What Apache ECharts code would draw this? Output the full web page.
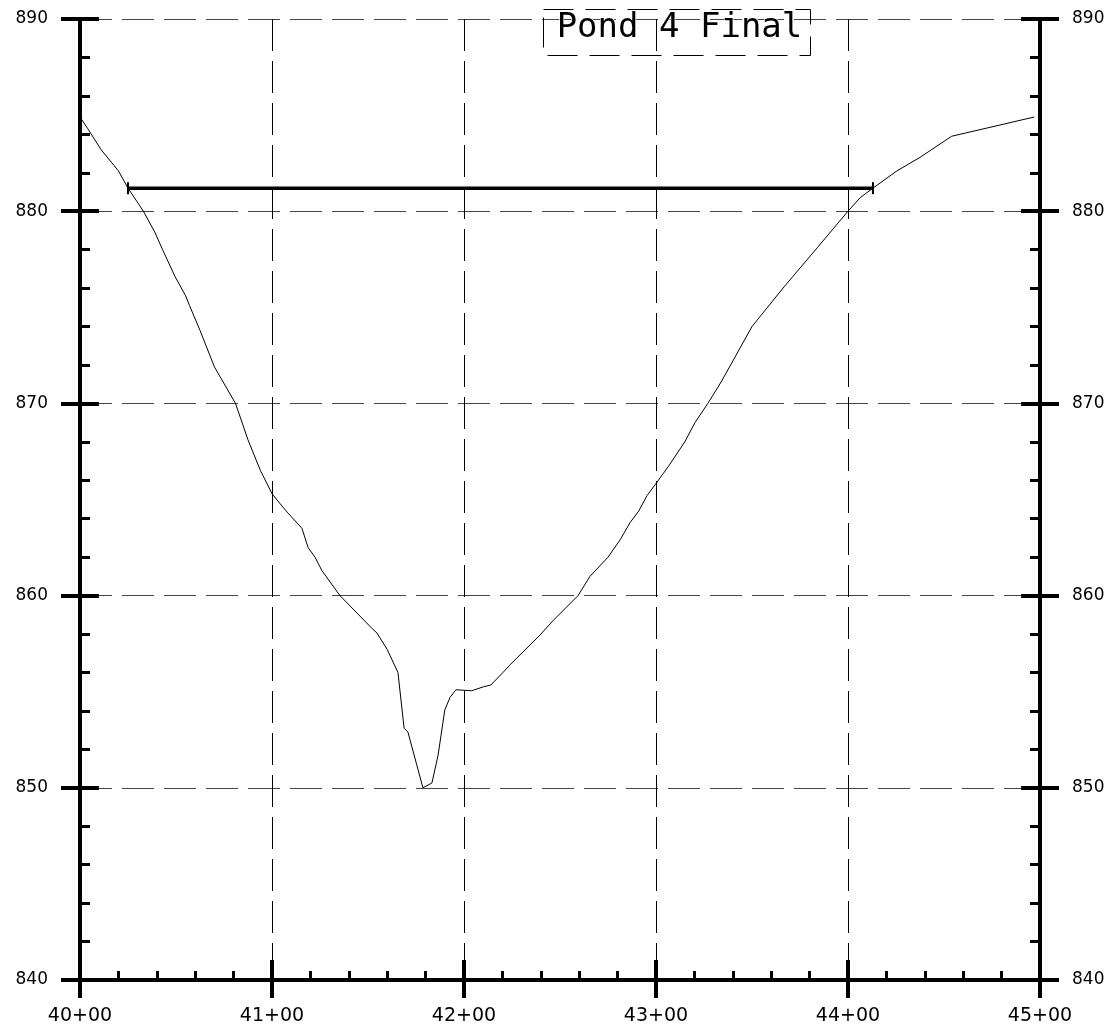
<!DOCTYPE html>
<html>
<head>
<meta charset="utf-8">
<script src="https://cdn.jsdelivr.net/npm/echarts@6/dist/echarts.min.js"></script>
<style>
html,body{margin:0;padding:0;background:#fff;}
#chart{width:1111px;height:1036px;}
</style>
</head>
<body>
<div id="chart"></div>
<script>
// Ground profile (station in ft, elevation)
const stations = [4000, 4004, 4011, 4020, 4025, 4033, 4039, 4043, 4049.5, 4055, 4057, 4062.5, 4070, 4081,
  4087.5, 4094, 4100, 4105.7, 4108.3, 4115.6, 4118.8, 4122.4, 4126, 4135.4, 4152, 4154.7, 4160, 4165.6,
  4168.8, 4170.8, 4178.6, 4183.3, 4186.5, 4190, 4192.7, 4195.8, 4204, 4210, 4214, 4220.3, 4224, 4239.6,
  4246.4, 4259.4, 4265.6, 4275, 4281.3, 4286.5, 4291, 4295.3, 4300.5, 4306.3, 4315, 4320.3, 4327, 4332.3,
  4334.4, 4350, 4367, 4384, 4400, 4406.3, 4413, 4425.5, 4437.5, 4454, 4497];
const elevations = [884.9, 884.3, 883.2, 882.1, 881.2, 880.0, 878.9, 878.0, 876.6, 875.6, 875.1, 873.8, 871.9, 870.0,
  868.1, 866.5, 865.3, 864.6, 864.3, 863.5, 862.5, 862.0, 861.3, 860.0, 858.3, 858.05, 857.2, 856.0,
  853.1, 852.9, 850.0, 850.25, 851.7, 854.05, 854.7, 855.1, 855.05, 855.25, 855.35, 856.0, 856.4, 857.95,
  858.7, 860.0, 861.0, 862.0, 862.9, 863.8, 864.4, 865.2, 865.9, 866.7, 868.0, 869.0, 870.0, 870.85,
  871.2, 874.0, 876.1, 878.1, 880.0, 880.7, 881.2, 882.1, 882.8, 883.9, 884.9];
// Water surface line
const wseStations = [4025, 4413];
const wseElevation = 881.2;
const titleText = 'Pond 4 Final';

const xMin = 4000, xMax = 4500, xStep = 100;
const yMin = 840, yMax = 890, yStep = 10;

const profile = stations.map((s, i) => [s, elevations[i]]);
const wse = wseStations.map(s => [s, wseElevation]);

const fontFam = '"DejaVu Sans", sans-serif';
const fmtSta = v => Math.floor(v / 100) + '+' + String(Math.round(v % 100)).padStart(2, '0');

function xAx(inside, withLabels) {
  return {
    type: 'value', position: 'bottom', min: xMin, max: xMax, interval: xStep,
    axisLine: { show: true, onZero: false, lineStyle: { color: '#000', width: 4 } },
    axisTick: { show: true, inside: inside, length: inside ? 20 : 18, lineStyle: { color: '#000', width: 4 } },
    minorTick: { show: inside, splitNumber: 5, length: 9, lineStyle: { color: '#000', width: 3 } },
    axisLabel: { show: withLabels, margin: 27, formatter: fmtSta, color: '#000', fontSize: 19, fontFamily: fontFam },
    splitLine: { show: withLabels, lineStyle: { color: '#000', width: 1, type: [32, 10] } }
  };
}
function yAx(pos, inside, withLabels, grid) {
  return {
    type: 'value', position: pos, min: yMin, max: yMax, interval: yStep,
    axisLine: { show: true, onZero: false, lineStyle: { color: '#000', width: 4 } },
    axisTick: { show: true, inside: inside, length: 19, lineStyle: { color: '#000', width: 4 } },
    minorTick: { show: inside, splitNumber: 5, length: 10, lineStyle: { color: '#000', width: 3 } },
    axisLabel: { show: withLabels, margin: 32, color: '#000', fontSize: 17, fontFamily: fontFam },
    splitLine: { show: grid, lineStyle: { color: '#444', width: 1, type: [32, 10] } }
  };
}

const chart = echarts.init(document.getElementById('chart'), null, { renderer: 'canvas' });
chart.setOption({
  backgroundColor: '#fff',
  animation: false,
  grid: { left: 80, right: 71, top: 19, bottom: 56, containLabel: false },
  xAxis: [xAx(false, true), xAx(true, false)],
  yAxis: [yAx('left', false, true, true), yAx('left', true, false, false),
          yAx('right', false, true, false), yAx('right', true, false, false)],
  graphic: [
    {
      type: 'rect', left: 541, top: 7, z: 10,
      shape: { width: 267, height: 46 },
      style: { fill: 'none', stroke: '#000', lineWidth: 1, lineDash: [30, 12] }
    },
    {
      type: 'text', left: 556, top: 11, z: 10,
      style: {
        text: titleText, font: 'normal 34px "DejaVu Sans Mono", monospace', fill: '#000',
        stroke: '#fff', lineWidth: 1.3
      }
    }
  ],
  series: [
    {
      type: 'line', xAxisIndex: 0, yAxisIndex: 0, data: profile,
      showSymbol: false, symbol: 'none', lineStyle: { color: '#000', width: 1 }, z: 5
    },
    {
      type: 'line', xAxisIndex: 0, yAxisIndex: 0, data: wse,
      symbol: 'rect', symbolSize: [2, 12], showSymbol: true,
      itemStyle: { color: '#000' },
      lineStyle: { color: '#000', width: 3.5 }, z: 6
    }
  ]
});
</script>
</body>
</html>
